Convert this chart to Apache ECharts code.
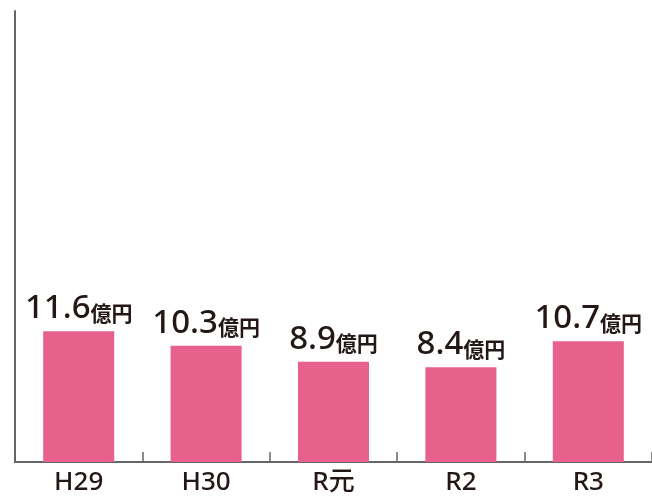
<!DOCTYPE html>
<html><head><meta charset="utf-8">
<script src="https://cdn.jsdelivr.net/npm/echarts@6/dist/echarts.min.js"></script>
<style>html,body{margin:0;padding:0;background:#fff}#c{width:652px;height:497px}</style>
</head><body><div id="c"></div>
<script>
const categories = ['H29', 'H30', 'R元', 'R2', 'R3'];
const values = [11.6, 10.3, 8.9, 8.4, 10.7];
const unit = '億円';

const chart = echarts.init(document.getElementById('c'), null, {renderer: 'canvas'});
chart.setOption({
  animation: false,
  grid: {left: 15, right: -1, top: 11, bottom: 35},
  xAxis: {
    type: 'category',
    data: categories,
    axisLine: {lineStyle: {color: '#666666', width: 2}},
    axisTick: {show: true, inside: true, length: 10, lineStyle: {color: '#666666', width: 1.5}},
    axisLabel: {color: '#231815', fontSize: 26, fontWeight: 500, margin: 8, fontFamily: '"Noto Sans", "Noto Sans CJK JP", sans-serif'}
  },
  yAxis: {
    type: 'value', min: 0, max: 40,
    axisLine: {show: true, lineStyle: {color: '#666666', width: 2}},
    axisTick: {show: false}, axisLabel: {show: false}, splitLine: {show: false}
  },
  series: [{
    type: 'bar',
    data: values,
    barWidth: 71,
    itemStyle: {color: '#E8608C'},
    label: {
      show: true, position: 'top', distance: 6,
      formatter: p => '{a|' + p.value.toFixed(1) + '}{b|' + unit + '}',
      rich: {
        a: {fontSize: 33, fontWeight: 500, color: '#231815', fontFamily: '"Noto Sans", sans-serif', verticalAlign: 'bottom'},
        b: {fontSize: 21, fontWeight: 'bold', color: '#231815', fontFamily: '"Noto Sans CJK JP", sans-serif', verticalAlign: 'bottom', padding: [0, 0, 2, 0]}
      }
    }
  }]
});
</script></body></html>
